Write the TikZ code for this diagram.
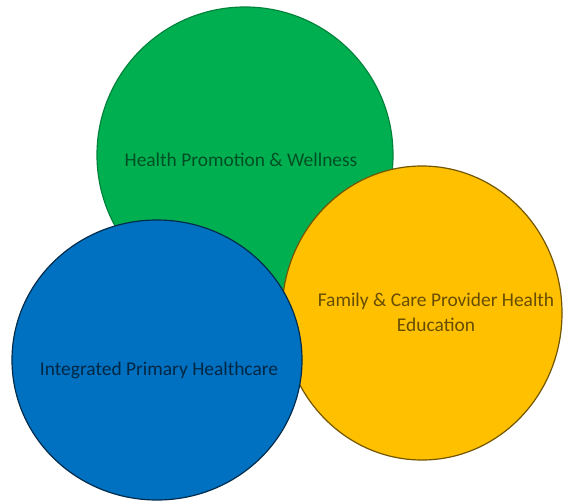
\documentclass[tikz,border=0pt]{standalone}
\usepackage{fontspec}
\setmainfont{Carlito}
\definecolor{cgreen}{HTML}{00B050}
\definecolor{cblue}{HTML}{0070C0}
\definecolor{cyellow}{HTML}{FFC000}
\begin{document}
\begin{tikzpicture}[x=1bp,y=-1bp,
  circ/.style={line width=1.2bp},
  lbl/.style={font=\fontsize{19.5}{25}\selectfont, align=center, inner sep=0pt}]
\useasboundingbox (0,0) rectangle (563,502);
\fill[white] (0,0) rectangle (563,502);
\draw[circ, fill=cgreen, draw=cgreen!75!black] (245,155) ellipse [x radius=148, y radius=148];
\draw[circ, fill=cyellow, draw=cyellow!45!black] (422,313) ellipse [x radius=140, y radius=147];
\draw[circ, fill=cblue, draw=cblue!40!black] (157,360) ellipse [x radius=145, y radius=140];
\node[lbl, text=cgreen!45!black] (g) at (241,160) {Health Promotion \& Wellness};
\node[lbl, text=cyellow!40!black] (y) at (436,312) {Family \& Care Provider Health\\Education};
\node[lbl, text=cblue!35!black] (b) at (159,370) {Integrated Primary Healthcare};
\end{tikzpicture}
\end{document}
